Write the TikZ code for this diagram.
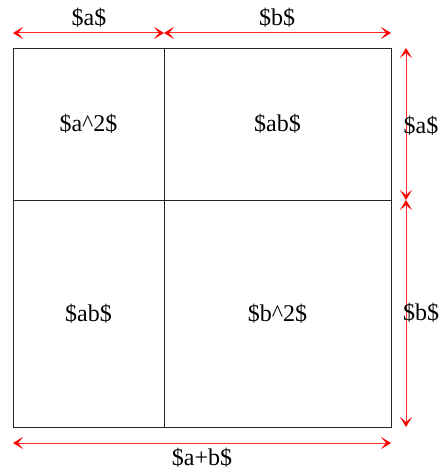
\documentclass[tikz,border=0pt]{standalone}
\usepackage{fontspec}
\setmainfont{Liberation Serif}
\usetikzlibrary{arrows.meta}
\begin{document}
\begin{tikzpicture}[x=1pt,y=-1pt,
  cell/.style={draw=black!85,line width=0.8pt,inner sep=0pt,font=\fontsize{24}{28}\selectfont},
  lbl/.style={inner sep=0pt,font=\fontsize{24}{28}\selectfont},
  dim/.style={draw=red!85,line width=1pt,{Stealth[length=10pt,width=12pt,inset=5pt,red]}-{Stealth[length=10pt,width=12pt,inset=5pt,red]}}]
\useasboundingbox (0,0) rectangle (441,470);
\node[cell,minimum width=151pt,minimum height=152pt] (A) at (88.5,124) {\$a\textasciicircum 2\$};
\node[cell,minimum width=227pt,minimum height=152pt] (B) at (277.5,124) {\$ab\$};
\node[cell,minimum width=151pt,minimum height=227pt] (C) at (88.5,313.5) {\$ab\$};
\node[cell,minimum width=227pt,minimum height=227pt] (D) at (277.5,313.5) {\$b\textasciicircum 2\$};
\coordinate (t0) at (13,33);
\coordinate (t1) at (164,33);
\coordinate (t2) at (391,33);
\coordinate (r0) at (406,48);
\coordinate (r1) at (406,200);
\coordinate (r2) at (406,427);
\coordinate (b0) at (13,443);
\coordinate (b1) at (391,443);
\draw[dim] (t0) -- (t1);
\draw[dim] (t1) -- (t2);
\draw[dim] (r0) -- (r1);
\draw[dim] (r1) -- (r2);
\draw[dim] (b0) -- (b1);
\node[lbl] (la) at (89,18) {\$a\$};
\node[lbl] (lb) at (277,18) {\$b\$};
\node[lbl] (ra) at (421,126) {\$a\$};
\node[lbl] (rb) at (421,313) {\$b\$};
\node[lbl] (bab) at (202,458) {\$a+b\$};
\end{tikzpicture}
\end{document}
